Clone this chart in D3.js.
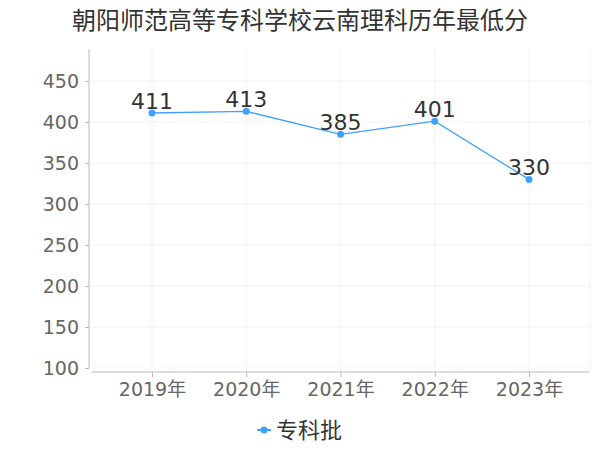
<!DOCTYPE html>
<html>
<head>
<meta charset="utf-8">
<script src="https://cdn.jsdelivr.net/npm/d3@7"></script>
<style>
  body { margin: 0; background: #fff; }
  svg { font-family: "DejaVu Sans", "Noto Sans CJK SC", sans-serif; }
</style>
</head>
<body>
<svg id="chart" width="600" height="450"></svg>
<script>
// chart data
var title = "朝阳师范高等专科学校云南理科历年最低分";
var years = ["2019年", "2020年", "2021年", "2022年", "2023年"];
var scores = [411, 413, 385, 401, 330];
var seriesName = "专科批";
var yTicks = [100, 150, 200, 250, 300, 350, 400, 450];

var svg = d3.select("#chart");
var blue = "#3fa0ff";

var x = d3.scalePoint().domain(years).range([152, 529]);
var y = d3.scaleLinear().domain([100, 450]).range([368, 81]);

// title
svg.append("text")
  .attr("x", 300).attr("y", 29)
  .attr("text-anchor", "middle")
  .style("font-family", "'Noto Sans CJK SC', sans-serif")
  .style("font-size", "24px")
  .attr("fill", "#333")
  .text(title);

// grid
var grid = svg.append("g");
grid.selectAll("line.h").data(yTicks).enter().append("line")
  .attr("x1", 92).attr("x2", 590)
  .attr("y1", function (d) { return y(d); })
  .attr("y2", function (d) { return y(d); })
  .attr("stroke", "#f3f3f3");
grid.selectAll("line.v").data(years).enter().append("line")
  .attr("x1", function (d) { return x(d); })
  .attr("x2", function (d) { return x(d); })
  .attr("y1", 49).attr("y2", 372)
  .attr("stroke", "#f3f3f3");
grid.append("line")
  .attr("x1", 590).attr("x2", 590).attr("y1", 49).attr("y2", 372)
  .attr("stroke", "#f3f3f3");

// y axis
var yAxis = svg.append("g")
  .attr("transform", "translate(89,0)")
  .call(d3.axisLeft(y).tickValues(yTicks).tickSize(4).tickPadding(6));
yAxis.select(".domain").remove();
yAxis.append("line").attr("x1", 0).attr("x2", 0).attr("y1", 49).attr("y2", 368).attr("stroke", "#bbb");
yAxis.selectAll(".tick line").attr("stroke", "#bbb");
yAxis.selectAll(".tick text")
  .attr("fill", "#666")
  .style("font-size", "19px")
  .style("font-family", "'DejaVu Sans', sans-serif");

// x axis
var xAxis = svg.append("g")
  .attr("transform", "translate(0,372)")
  .call(d3.axisBottom(x).tickSize(5).tickPadding(6));
xAxis.select(".domain").remove();
xAxis.append("line").attr("x1", 92).attr("x2", 589).attr("y1", 0).attr("y2", 0).attr("stroke", "#bbb");
xAxis.selectAll(".tick line").attr("stroke", "#bbb");
xAxis.selectAll(".tick text")
  .attr("fill", "#666")
  .style("font-size", "19px")
  .style("font-family", "'DejaVu Sans', 'Noto Sans CJK SC', sans-serif");

// line and points
var line = d3.line()
  .x(function (d, i) { return x(years[i]); })
  .y(function (d) { return y(d); });

svg.append("path")
  .datum(scores)
  .attr("d", line)
  .attr("fill", "none")
  .attr("stroke", blue)
  .attr("stroke-width", 1.3);

svg.selectAll("circle.pt").data(scores).enter().append("circle")
  .attr("class", "pt")
  .attr("cx", function (d, i) { return x(years[i]); })
  .attr("cy", function (d) { return y(d); })
  .attr("r", 3.5)
  .attr("fill", blue);

svg.selectAll("text.lbl").data(scores).enter().append("text")
  .attr("class", "lbl")
  .attr("x", function (d, i) { return x(years[i]); })
  .attr("y", function (d) { return y(d) - 4; })
  .attr("text-anchor", "middle")
  .attr("fill", "#333")
  .style("font-size", "22px")
  .text(function (d) { return d; });

// legend
var legend = svg.append("g");
legend.append("line")
  .attr("x1", 257).attr("x2", 271).attr("y1", 430).attr("y2", 430)
  .attr("stroke", blue).attr("stroke-width", 2);
legend.append("circle")
  .attr("cx", 264).attr("cy", 430).attr("r", 3.5).attr("fill", blue);
legend.append("text")
  .attr("x", 276).attr("y", 438)
  .attr("fill", "#333")
  .style("font-family", "'Noto Sans CJK SC', sans-serif")
  .style("font-size", "22px")
  .text(seriesName);
</script>
</body>
</html>
